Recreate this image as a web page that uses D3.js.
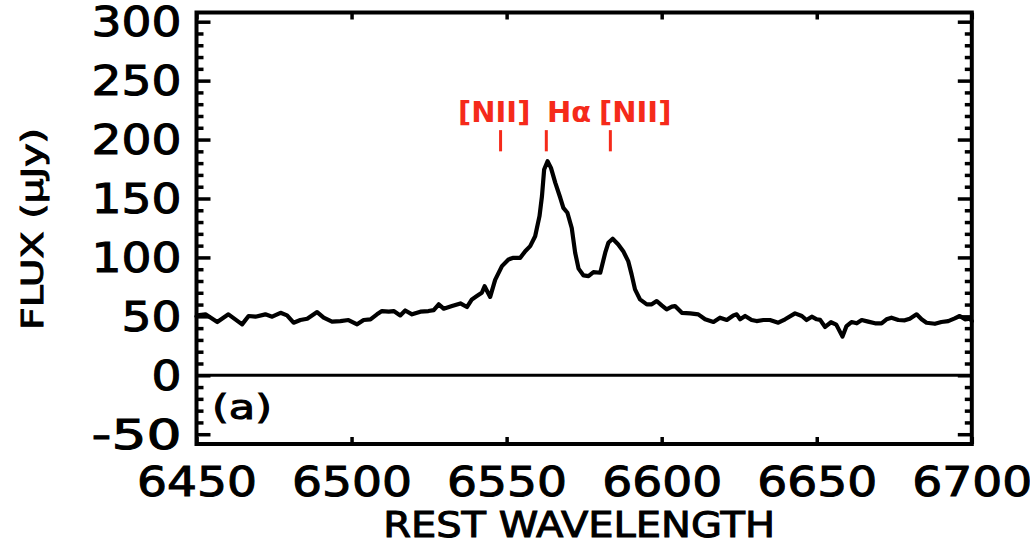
<!DOCTYPE html>
<html>
<head>
<meta charset="utf-8">
<script src="https://cdn.jsdelivr.net/npm/d3@7"></script>
<style>
  html, body { margin: 0; padding: 0; background: #fff; }
  svg { display: block; }
  text { font-family: "DejaVu Sans", sans-serif; fill: #000; }
  .heavy { stroke: #000; stroke-width: 1; paint-order: stroke; }
</style>
</head>
<body>
<svg id="chart" width="1030" height="544"></svg>
<script>
// Rest-frame spectrum around H-alpha: wavelength (Å) and flux (μJy)
const wavelength = [
  6450.0, 6450.2, 6452.9, 6456.7, 6460.3, 6464.7, 6466.8, 6469.0, 6472.2, 6474.4,
  6477.1, 6479.2, 6481.3, 6483.5, 6485.7, 6488.9, 6491.0, 6493.7, 6496.4, 6499.0,
  6501.8, 6503.9, 6506.1, 6508.2, 6509.8, 6512.0, 6513.6, 6515.7, 6517.3, 6519.5,
  6522.2, 6524.8, 6526.5, 6528.1, 6529.7, 6532.4, 6535.1, 6537.2, 6538.8, 6540.4,
  6542.0, 6542.9, 6544.7, 6546.3, 6548.5, 6550.6, 6552.2, 6554.4, 6556.0, 6557.6,
  6559.2, 6560.6, 6561.4, 6562.1, 6563.2, 6564.3, 6565.7, 6567.3, 6568.3, 6569.6,
  6571.0, 6572.1, 6573.2, 6574.8, 6576.4, 6578.0, 6580.2, 6581.8, 6582.8, 6584.2,
  6586.0, 6587.6, 6589.2, 6590.3, 6591.4, 6593.0, 6595.2, 6596.8, 6598.4, 6600.0,
  6601.6, 6603.3, 6604.3, 6606.5, 6609.2, 6611.8, 6614.0, 6616.7, 6618.8, 6621.0,
  6623.1, 6624.2, 6625.3, 6626.9, 6629.0, 6630.6, 6632.8, 6634.9, 6637.6, 6639.8,
  6643.0, 6645.2, 6646.7, 6648.4, 6650.0, 6651.1, 6652.7, 6654.6, 6656.3, 6658.3,
  6659.6, 6661.2, 6662.9, 6664.5, 6666.6, 6668.8, 6670.9, 6672.5, 6674.1, 6676.3,
  6678.4, 6680.0, 6682.2, 6683.8, 6685.4, 6688.1, 6690.2, 6692.4, 6694.5, 6696.1,
  6697.8, 6699.4, 6700.0
];
const flux = [
  50.0, 50.8, 51.7, 45.2, 51.7, 43.2, 50.3, 49.7, 51.7, 49.7,
  53.0, 50.8, 44.6, 46.9, 48.0, 53.6, 48.9, 45.5, 46.0, 46.9,
  43.2, 46.9, 47.5, 51.7, 54.5, 54.0, 54.5, 50.8, 55.0, 51.7,
  54.0, 54.5, 55.3, 60.2, 56.5, 58.7, 61.0, 57.9, 64.4, 67.2,
  70.0, 75.5, 66.5, 81.0, 92.6, 98.3, 99.7, 99.7, 105.3, 109.6,
  118.0, 135.0, 152.0, 174.6, 181.6, 176.0, 163.3, 150.6, 142.0, 137.9,
  125.0, 104.0, 90.5, 84.7, 84.2, 87.5, 87.0, 104.0, 112.4, 115.8,
  111.0, 105.3, 96.9, 85.6, 72.9, 64.4, 60.2, 60.2, 63.0, 59.3,
  55.9, 58.2, 58.7, 53.0, 52.5, 51.7, 47.5, 45.2, 48.9, 46.9,
  50.8, 51.7, 47.5, 50.3, 46.9, 46.0, 46.9, 46.9, 44.6, 47.5,
  52.5, 50.3, 46.9, 49.7, 47.5, 47.0, 41.0, 45.0, 43.0, 32.8,
  41.8, 45.2, 44.1, 46.9, 45.5, 44.1, 44.1, 47.5, 48.9, 46.9,
  46.6, 48.0, 51.7, 47.5, 44.6, 43.7, 45.2, 46.0, 48.3, 50.3,
  47.5, 48.0, 46.0
];

// Emission lines marked above the spectrum
const lineNames = ["[NII]", "Hα", "[NII]"];
const lineWave  = [6548.05, 6562.8, 6583.45];
const lineLabelWave = [6546.0, 6563.0, 6579.8];   // label anchor wavelengths
const lineLabelAnchor = ["middle", "start", "start"];

// Axis ticks
const xTicks = [6450, 6500, 6550, 6600, 6650, 6700];
const yTicks = [-50, 0, 50, 100, 150, 200, 250, 300];
const yMinorTicks = d3.range(-50, 301, 10).filter(v => v % 50 !== 0);

const xDomain = [6450, 6700];
const yDomain = [-58.3, 307.8];

const svg = d3.select("#chart");
const plotL = 196.5, plotR = 971.8, plotT = 12.5, plotB = 444;

const x = d3.scaleLinear().domain(xDomain).range([plotL, plotR]);
const y = d3.scaleLinear().domain(yDomain).range([plotB, plotT]);

const digitW = 30;
function stretch(sel) {
  sel.attr("textLength", function () { return this.textContent.length * digitW; })
     .attr("lengthAdjust", "spacingAndGlyphs");
}

// zero level
svg.append("line")
  .attr("x1", plotL).attr("x2", plotR)
  .attr("y1", y(0)).attr("y2", y(0))
  .attr("stroke", "#000").attr("stroke-width", 3);

// spectrum
const line = d3.line().x(d => x(d[0])).y(d => y(d[1]));
svg.append("path")
  .datum(wavelength.map((w, i) => [w, flux[i]]))
  .attr("fill", "none")
  .attr("stroke", "#000")
  .attr("stroke-width", 4.2)
  .attr("stroke-linejoin", "round")
  .attr("stroke-linecap", "round")
  .attr("d", line);

// axes: ticks point inward on all four sides
function styleAxis(g) {
  g.select(".domain").remove();
  g.selectAll(".tick line").attr("stroke", "#000").attr("stroke-width", 3.5);
}

const yLeft = svg.append("g").attr("transform", `translate(${plotL},0)`)
  .call(d3.axisLeft(y).tickValues(yTicks).tickSize(-14).tickPadding(15)
        .tickFormat(d => d < 0 ? "-" + Math.abs(d) : String(d)))
  .call(styleAxis);
yLeft.selectAll(".tick text")
  .attr("font-size", 40).attr("font-family", "DejaVu Sans")
  .attr("dy", "0.35em")
  .classed("heavy", true)
  .call(stretch);

svg.append("g").attr("transform", `translate(${plotL},0)`)
  .call(d3.axisLeft(y).tickValues(yMinorTicks).tickSize(-7).tickFormat(""))
  .call(styleAxis);

svg.append("g").attr("transform", `translate(${plotR},0)`)
  .call(d3.axisRight(y).tickValues(yTicks).tickSize(-14).tickFormat(""))
  .call(styleAxis);
svg.append("g").attr("transform", `translate(${plotR},0)`)
  .call(d3.axisRight(y).tickValues(yMinorTicks).tickSize(-7).tickFormat(""))
  .call(styleAxis);

const xBottom = svg.append("g").attr("transform", `translate(0,${plotB})`)
  .call(d3.axisBottom(x).tickValues(xTicks).tickSize(-7).tickPadding(24).tickFormat(d3.format("d")))
  .call(styleAxis);
xBottom.selectAll(".tick text")
  .attr("font-size", 40).attr("font-family", "DejaVu Sans")
  .classed("heavy", true)
  .call(stretch);

svg.append("g").attr("transform", `translate(0,${plotT})`)
  .call(d3.axisTop(x).tickValues(xTicks).tickSize(-7).tickFormat(""))
  .call(styleAxis);

// frame
svg.append("rect")
  .attr("x", plotL).attr("y", plotT)
  .attr("width", plotR - plotL).attr("height", plotB - plotT)
  .attr("fill", "none").attr("stroke", "#000").attr("stroke-width", 4);

// axis titles
svg.append("text")
  .attr("class", "heavy")
  .attr("x", (plotL + plotR) / 2 - 5).attr("y", 537)
  .attr("text-anchor", "middle")
  .attr("font-size", 35)
  .attr("textLength", 392).attr("lengthAdjust", "spacingAndGlyphs")
  .text("REST WAVELENGTH");

svg.append("text")
  .attr("class", "heavy")
  .attr("transform", `translate(43,229) rotate(-90)`)
  .attr("text-anchor", "middle")
  .attr("font-size", 30)
  .attr("textLength", 202).attr("lengthAdjust", "spacingAndGlyphs")
  .text("FLUX (μJy)");

// panel tag
svg.append("text")
  .attr("class", "heavy")
  .attr("x", 212).attr("y", 419)
  .attr("font-size", 33)
  .attr("textLength", 60).attr("lengthAdjust", "spacingAndGlyphs")
  .text("(a)");

// line markers
const red = "#f52a1a";
svg.append("g").selectAll("line")
  .data(lineWave)
  .join("line")
  .attr("x1", d => x(d)).attr("x2", d => x(d))
  .attr("y1", y(208)).attr("y2", y(190))
  .attr("stroke", red).attr("stroke-width", 3);

svg.append("g").selectAll("text")
  .data(lineNames)
  .join("text")
  .attr("x", (d, i) => x(lineLabelWave[i]))
  .attr("y", y(215))
  .attr("text-anchor", (d, i) => lineLabelAnchor[i])
  .attr("font-size", 29)
  .attr("font-weight", "bold")
  .style("fill", red)
  .text(d => d);
</script>
</body>
</html>
